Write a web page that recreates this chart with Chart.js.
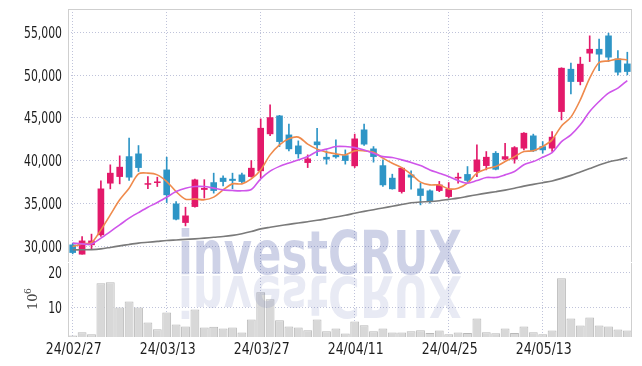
<!DOCTYPE html>
<html><head><meta charset="utf-8">
<script src="https://cdn.jsdelivr.net/npm/chart.js@4.4.1/dist/chart.umd.min.js"></script>
<style>
html,body{margin:0;padding:0;background:#fff;}
#wrap{position:relative;width:642px;height:366px;overflow:hidden;background:#fff;}
.box{position:absolute;left:0;width:642px;}
#wm{position:absolute;left:0;top:0;pointer-events:none;}
</style></head><body>
<div id="wrap">
<div class="box" style="top:0;height:264px"><canvas id="pc"></canvas></div>
<div class="box" style="top:262px;height:104px"><canvas id="vc"></canvas></div>
<canvas id="wm" width="642" height="366"></canvas>
</div>
<script>
const dates = ['24/02/27','24/02/28','24/02/29','24/03/04','24/03/05','24/03/06','24/03/07','24/03/08','24/03/11','24/03/12',
'24/03/13','24/03/14','24/03/15','24/03/18','24/03/19','24/03/20','24/03/21','24/03/22','24/03/25','24/03/26',
'24/03/27','24/03/28','24/03/29','24/04/01','24/04/02','24/04/03','24/04/04','24/04/05','24/04/08','24/04/09',
'24/04/11','24/04/12','24/04/15','24/04/16','24/04/17','24/04/18','24/04/19','24/04/22','24/04/23','24/04/24',
'24/04/25','24/04/26','24/04/29','24/04/30','24/05/02','24/05/03','24/05/07','24/05/08','24/05/09','24/05/10',
'24/05/13','24/05/14','24/05/16','24/05/17','24/05/20','24/05/21','24/05/22','24/05/23','24/05/24','24/05/27'];
const openP = [30200,29110,30200,31360,37390,38160,40490,40810,37250,37450,38940,34980,32800,34660,36650,37460,37980,37860,38360,38160,
38830,43140,45240,43020,41740,39790,42210,40420,40650,40610,39410,43610,41390,39440,37980,36410,38360,36730,36500,36530,
35830,37980,38410,38750,39440,40880,40190,40190,41470,42910,41660,41470,45740,50680,49240,52550,53010,54570,51880,51300];
const highP = [30400,31170,31450,37660,39530,40580,42640,41780,38150,38090,40420,35250,34590,37860,37800,38560,38240,38560,38560,40030,
44890,46520,45300,44270,42320,40690,43800,41160,42440,41270,43110,44270,41660,40110,38440,39210,38830,37390,36610,37600,
37460,38560,39330,41860,41080,41080,42050,41660,43300,43110,42240,43410,50850,51380,52080,54570,54180,54880,52860,52660];
const lowP = [29150,29100,29730,31170,36730,37310,37700,38750,36750,37000,35130,33110,32410,34590,35650,36230,37080,36730,37460,38090,
37980,42940,41660,41160,40310,39210,40610,39610,40310,39610,39210,41780,39840,37000,36690,36230,36690,34860,35060,36400,
35700,37390,37580,38160,38940,38940,40110,39720,41270,41080,40890,41080,44770,47800,48850,51570,50520,51570,50020,50020];
const closeP = [29300,30660,30660,36730,38560,39260,38090,39210,37350,37550,36030,33190,33580,37780,36800,36530,37580,37700,37580,39140,
43800,45040,42240,41390,40810,40230,41860,40190,40460,40030,42560,41940,40490,37190,36730,39140,38090,35950,35330,37190,
36690,38090,37710,40110,40420,39010,40490,41540,43220,41160,41270,42760,50800,49240,51270,53010,52430,52080,50330,50410];
const ma5 = [30000,30310,30470,31950,33700,35450,36810,38480,38560,38360,37580,36410,35530,35560,35450,35760,36610,37310,37310,37880,
38940,40690,41860,42560,42760,41940,41360,41010,40810,40690,41160,41160,41010,40310,39720,39210,38440,37510,37190,37190,
36730,36810,37390,38560,39060,39330,39910,40490,41080,41160,41660,42440,44070,45090,47100,49640,51460,51650,51850,51770];
const ma20 = [30400,30310,30290,30980,31750,32530,33310,33960,34590,35130,35760,36410,36810,37000,37000,36810,36610,36530,36500,36650,
37900,38800,39350,39750,40100,40500,41080,41360,41660,41660,41540,41270,40890,40490,40380,40110,39810,39440,38940,38560,
38160,37700,37390,37700,38050,38050,38360,38750,39530,39910,40420,40960,42240,43020,44190,45740,46910,47890,48470,49360];
const ma60 = [29620,29620,29640,29730,29900,30080,30250,30400,30500,30600,30700,30770,30840,30900,30980,31080,31170,31300,31500,31750,
32060,32250,32420,32590,32750,32900,33060,33250,33450,33650,33880,34100,34300,34500,34700,34900,35100,35200,35250,35350,
35500,35650,35850,36050,36230,36400,36580,36800,37050,37250,37450,37650,37950,38300,38700,39100,39500,39850,40100,40350];
const volume = [2.0,2.94,2.37,16.86,17.14,10.0,11.7,10.0,5.7,3.8,8.57,5.14,4.57,9.43,4.29,4.5,4.0,4.29,2.86,6.57,
14.29,12.29,6.37,4.57,4.29,3.51,6.57,3.23,4.0,2.57,6.0,4.94,3.23,4.0,2.86,2.86,3.23,3.51,2.76,3.43,
2.37,2.86,2.76,6.86,2.94,2.67,4.0,2.76,4.57,2.94,2.37,3.43,18.29,6.86,4.86,7.14,4.86,4.57,3.71,3.43];
const priceTicks = [30000,35000,40000,45000,50000,55000];
const volTicks = [10,20];
const xTickEvery = 10;

const UP = '#e3196a', DOWN = '#2e95c6';
const candleColor = closeP.map((c,i)=> c >= openP[i] ? UP : DOWN);
const LABEL_FONT = "15px 'DejaVu Sans Condensed','DejaVu Sans',sans-serif";
const gridCol = 'rgba(170,175,205,0.75)';

function drawFit(ctx, s, x, y, align, targetW, refStr){
  const w = ctx.measureText(refStr).width;
  const sx = targetW / w;
  ctx.save();
  ctx.translate(x, y);
  ctx.scale(sx, 1);
  ctx.textAlign = align;
  ctx.fillText(s, 0, 0);
  ctx.restore();
}

const frame = {
  id:'frame',
  afterDraw(chart, args, opts){
    const {ctx, chartArea:a} = chart;
    ctx.save();
    ctx.strokeStyle = '#cfcfcf'; ctx.lineWidth = 1;
    ctx.beginPath();
    if (opts.top){ ctx.moveTo(a.left, a.top+0.5); ctx.lineTo(a.right, a.top+0.5); }
    ctx.moveTo(a.left+0.5, a.top); ctx.lineTo(a.left+0.5, a.bottom);
    ctx.moveTo(a.right-0.5, a.top); ctx.lineTo(a.right-0.5, a.bottom);
    ctx.stroke();
    // y tick labels from the library's y scale
    ctx.fillStyle = '#1c1c1c';
    ctx.font = LABEL_FONT;
    ctx.textBaseline = 'alphabetic';
    const ys = chart.scales.y;
    ys.ticks.forEach(t => {
      const y = ys.getPixelForValue(t.value);
      drawFit(ctx, opts.fmt(t.value), a.left - 6, y + 5.5, 'right', 38, '55,000');
    });
    if (opts.xlabels){
      const xs = chart.scales.x;
      dates.forEach((d,i)=>{
        if (i % xTickEvery !== 0) return;
        const x = xs.getPixelForValue(i);
        drawFit(ctx, d, x + 1, a.bottom + 17, 'center', 56, '24/02/27');
      });
    }
    if (opts.unit){
      ctx.fillStyle = '#444';
      ctx.translate(37, 40);
      ctx.rotate(-Math.PI/2);
      ctx.font = "13px 'DejaVu Serif', serif";
      ctx.fillText('10', -8, 0);
      ctx.font = "9px 'DejaVu Serif', serif";
      ctx.fillText('6', 8, -6);
    }
    ctx.restore();
  }
};

const xCommon = {
  type:'category',
  offset:true,
  grid:{offset:false, drawTicks:false, color:(c)=> (c.index % xTickEvery === 0) ? gridCol : 'transparent', lineWidth:1},
  border:{display:false, dash:[1,2]},
  ticks:{display:false}
};

const pc = new Chart(document.getElementById('pc'), {
  type:'bar',
  data:{
    labels: dates,
    datasets:[
      {type:'bar', label:'wick', data: lowP.map((l,i)=>[l, highP[i]]), backgroundColor:candleColor, barThickness:1, grouped:false, order:3},
      {type:'bar', label:'body', data: openP.map((o,i)=>[Math.min(o,closeP[i]), Math.max(o,closeP[i])]), backgroundColor:candleColor, barThickness:6, grouped:false, order:2},
      {type:'line', label:'MA60', data: ma60, borderColor:'#7a7a7a', borderWidth:1.6, pointRadius:0, tension:0.3, order:1},
      {type:'line', label:'MA20', data: ma20, borderColor:'#cf55ea', borderWidth:1.6, pointRadius:0, tension:0.3, order:1},
      {type:'line', label:'MA5', data: ma5, borderColor:'#ef8a4c', borderWidth:1.6, pointRadius:0, tension:0.3, order:1},
    ]
  },
  options:{
    responsive:true, maintainAspectRatio:false, animation:false,
    layout:{autoPadding:false, padding:{left:0,right:10,top:9,bottom:2}},
    plugins:{legend:{display:false}, tooltip:{enabled:false}, frame:{top:true, fmt:(v)=>v.toLocaleString('en-US')}},
    scales:{
      x:{...xCommon, afterFit:(s)=>{s.height=0;}},
      y:{
        type:'linear', min:28200, max:57700,
        afterFit:(s)=>{s.width=68;},
        afterBuildTicks:(s)=>{s.ticks = priceTicks.map(v=>({value:v}));},
        ticks:{display:false},
        grid:{color:gridCol, drawTicks:false},
        border:{display:false, dash:[1,2]}
      }
    }
  },
  plugins:[frame]
});

const vc = new Chart(document.getElementById('vc'), {
  type:'bar',
  data:{
    labels: dates,
    datasets:[{label:'vol', data: volume, backgroundColor:'#d8d8d8', borderColor:'#b9b9b9', borderWidth:1, barPercentage:0.94, categoryPercentage:1}]
  },
  options:{
    responsive:true, maintainAspectRatio:false, animation:false,
    layout:{autoPadding:false, padding:{left:0,right:10,top:1,bottom:5}},
    plugins:{legend:{display:false}, tooltip:{enabled:false}, frame:{top:false, unit:true, xlabels:true, fmt:(v)=>String(v)}},
    scales:{
      x:{...xCommon, afterFit:(s)=>{s.height=24;}},
      y:{
        type:'linear', min:1.6, max:22.6,
        afterFit:(s)=>{s.width=68;},
        afterBuildTicks:(s)=>{s.ticks = volTicks.map(v=>({value:v}));},
        ticks:{display:false},
        grid:{color:gridCol, drawTicks:false},
        border:{display:false, dash:[1,2]}
      }
    }
  },
  plugins:[frame]
});

// watermark
(function(){
  const c = document.getElementById('wm').getContext('2d');
  const txt = 'investCRUX';
  c.font = "bold 60px 'DejaVu Sans Condensed','DejaVu Sans',sans-serif";
  const w = c.measureText(txt).width;
  const targetW = 284, x0 = 178, base = 274;
  const sx = targetW / w;
  c.save();
  c.globalAlpha = 0.27;
  c.fillStyle = '#4a5aa8';
  c.translate(x0, base);
  c.scale(sx, 1);
  c.fillText(txt, 0, 0);
  c.restore();
  c.save();
  c.globalAlpha = 0.13;
  c.fillStyle = '#4a5aa8';
  c.translate(x0, base + 2);
  c.scale(sx, -0.95);
  c.fillText(txt, 0, 0);
  c.restore();
})();
</script>
</body></html>
